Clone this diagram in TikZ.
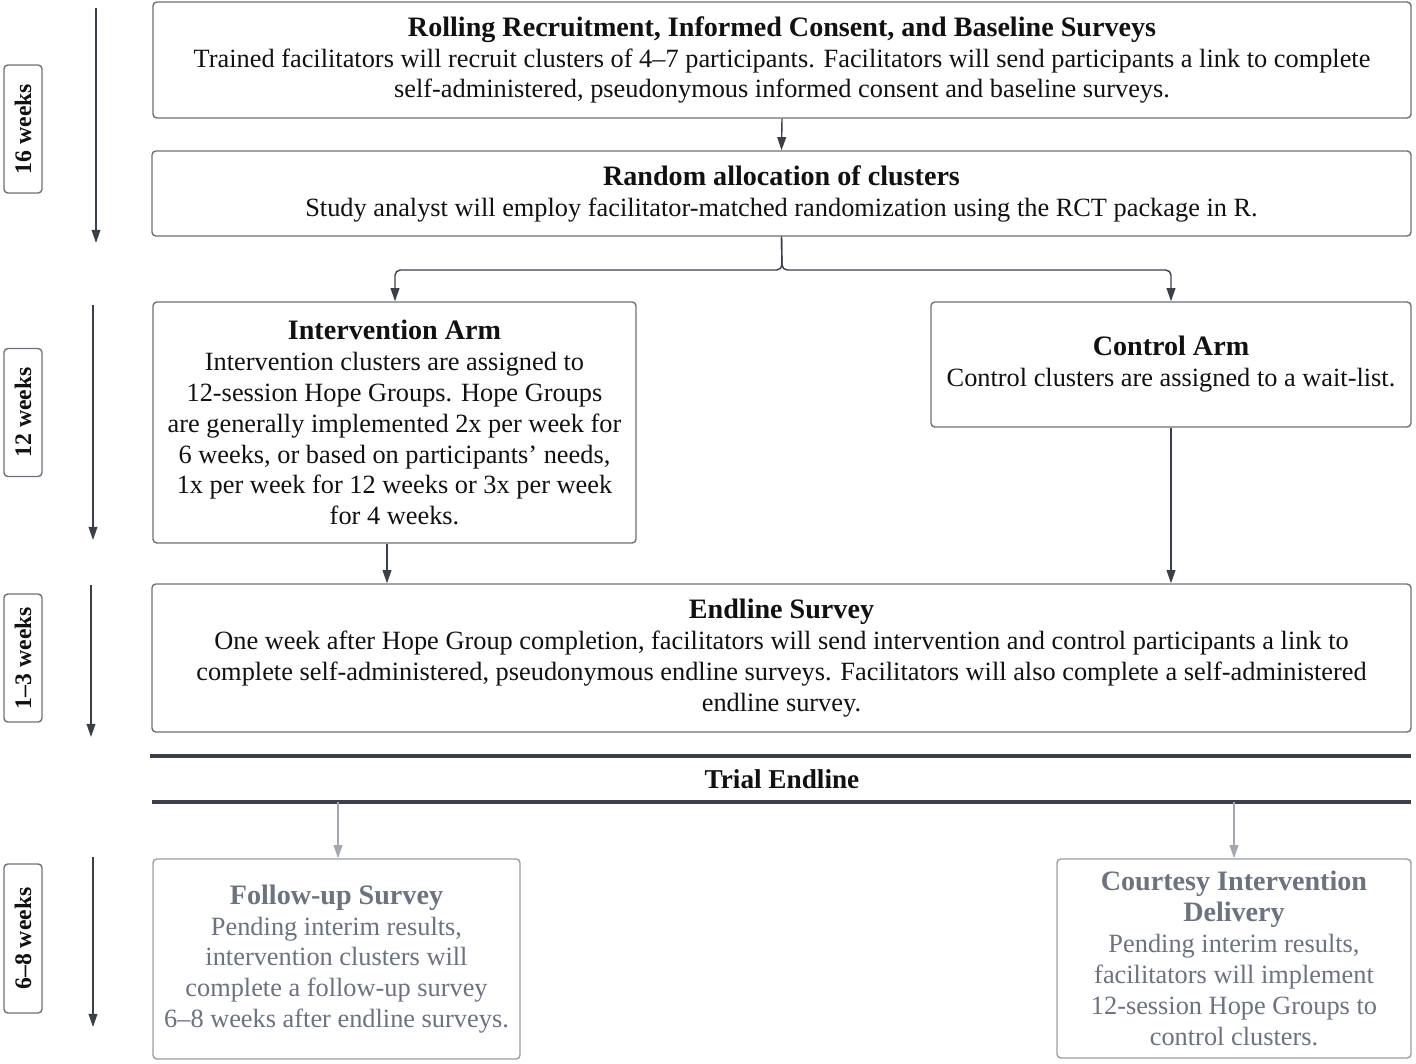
\documentclass[tikz,border=0pt]{standalone}
\usepackage{fontspec}
\setmainfont{Liberation Serif}
\usetikzlibrary{arrows.meta}
\definecolor{bd}{HTML}{6E7179}
\definecolor{ar}{HTML}{3A3F4A}
\definecolor{gtx}{HTML}{6B7280}
\definecolor{gbd}{HTML}{9A9EA6}
\definecolor{gar}{HTML}{A3A8B0}
\definecolor{txt}{HTML}{111111}
\newcommand{\ttl}[1]{{\fontsize{16}{17.6}\selectfont\bfseries #1}}
\tikzset{
  box/.style 2 args={draw=bd, line width=0.8pt, rounded corners=2.2pt, fill=white,
    minimum width=#1*0.02cm, minimum height=#2*0.02cm, inner sep=0pt,
    align=center, text=txt, font=\fontsize{15}{17.6}\selectfont},
  gbox/.style 2 args={box={#1}{#2}, draw=gbd, text=gtx},
  wk/.style={draw=bd, line width=0.8pt, rounded corners=2.2pt, rotate=90,
    minimum width=128*0.02cm, minimum height=38*0.02cm, inner sep=0pt,
    font=\fontsize{13.5}{15}\selectfont\bfseries, text=txt},
  arr/.style={draw=ar, line width=0.8pt, -{Triangle[length=7.5pt,width=5pt]}},
  garr/.style={draw=gar, line width=0.8pt, -{Triangle[length=7.5pt,width=5pt]}},
  tline/.style={draw=ar, line width=2.2pt},
}
\begin{document}
\begin{tikzpicture}[x=0.02cm, y=-0.02cm]
\useasboundingbox (0,0) rectangle (1416,1063);

% left timeline
\node[wk] (w1) at (23,129) {16 weeks};
\node[wk] (w2) at (23,412.5) {12 weeks};
\node[wk] (w3) at (23,658) {1–3 weeks};
\node[wk, minimum width=149*0.02cm] (w4) at (23,938.5) {6–8 weeks};
\coordinate (a1s) at (96,8);   \coordinate (a1e) at (96,243);
\coordinate (a2s) at (93,305); \coordinate (a2e) at (93,540);
\coordinate (a3s) at (91,585); \coordinate (a3e) at (91,737);
\coordinate (a4s) at (93,857); \coordinate (a4e) at (93,1027);
\draw[arr] (a1s) -- (a1e);
\draw[arr] (a2s) -- (a2e);
\draw[arr] (a3s) -- (a3e);
\draw[arr] (a4s) -- (a4e);

% boxes
\node[box={1258}{116}] (rec) at (782,60)
  {\ttl{Rolling Recruitment, Informed Consent, and Baseline Surveys}\\
   Trained facilitators will recruit clusters of 4–7 participants. Facilitators will send participants a link to complete\\
   self-administered, pseudonymous informed consent and baseline surveys.};
\node[box={1259}{85}] (ran) at (781.5,193.5)
  {\ttl{Random allocation of clusters}\\
   Study analyst will employ facilitator-matched randomization using the RCT package in R.};
\node[box={483}{241}] (int) at (394.5,422.5)
  {\ttl{Intervention Arm}\\
   Intervention clusters are assigned to\\
   12-session Hope Groups. Hope Groups\\
   are generally implemented 2x per week for\\
   6 weeks, or based on participants' needs,\\
   1x per week for 12 weeks or 3x per week\\
   for 4 weeks.};
\node[box={480}{125}] (con) at (1171,364.5)
  {\ttl{Control Arm}\\
   Control clusters are assigned to a wait-list.};
\node[box={1259}{148}] (end) at (781.5,658)
  {\ttl{Endline Survey}\\
   One week after Hope Group completion, facilitators will send intervention and control participants a link to\\
   complete self-administered, pseudonymous endline surveys. Facilitators will also complete a self-administered\\
   endline survey.};
\node[gbox={367}{200}] (fol) at (336.5,959)
  {\ttl{Follow-up Survey}\\
   Pending interim results,\\
   intervention clusters will\\
   complete a follow-up survey\\
   6–8 weeks after endline surveys.};
\node[gbox={354}{199}] (cou) at (1234,958.5)
  {\ttl{Courtesy Intervention}\\
   \ttl{Delivery}\\
   Pending interim results,\\
   facilitators will implement\\
   12-session Hope Groups to\\
   control clusters.};

% trial endline
\coordinate (t1a) at (150,756); \coordinate (t1b) at (1411,756);
\coordinate (t2a) at (152,802); \coordinate (t2b) at (1411,802);
\draw[tline] (t1a) -- (t1b);
\draw[tline] (t2a) -- (t2b);
\node[font=\fontsize{15.5}{17}\selectfont\bfseries, text=txt] (tel) at (782,779) {Trial Endline};

% connectors
\coordinate (split) at (782,270);
\draw[arr] (rec.south) -- (ran.north);
\draw[arr, rounded corners=3pt] (ran.south) -- (split) -- (395,270) -- (int.north -| 395,0);
\draw[arr, rounded corners=3pt] (ran.south) -- (split) -- (con.north |- split) -- (con.north);
\draw[arr] (int.south -| 387,0) -- (end.north -| 387,0);
\draw[arr] (con.south) -- (end.north -| con.south);
\coordinate (g1) at (338,802);
\coordinate (g2) at (1234,802);
\draw[garr] (g1) -- (fol.north -| g1);
\draw[garr] (g2) -- (cou.north);
\end{tikzpicture}
\end{document}
